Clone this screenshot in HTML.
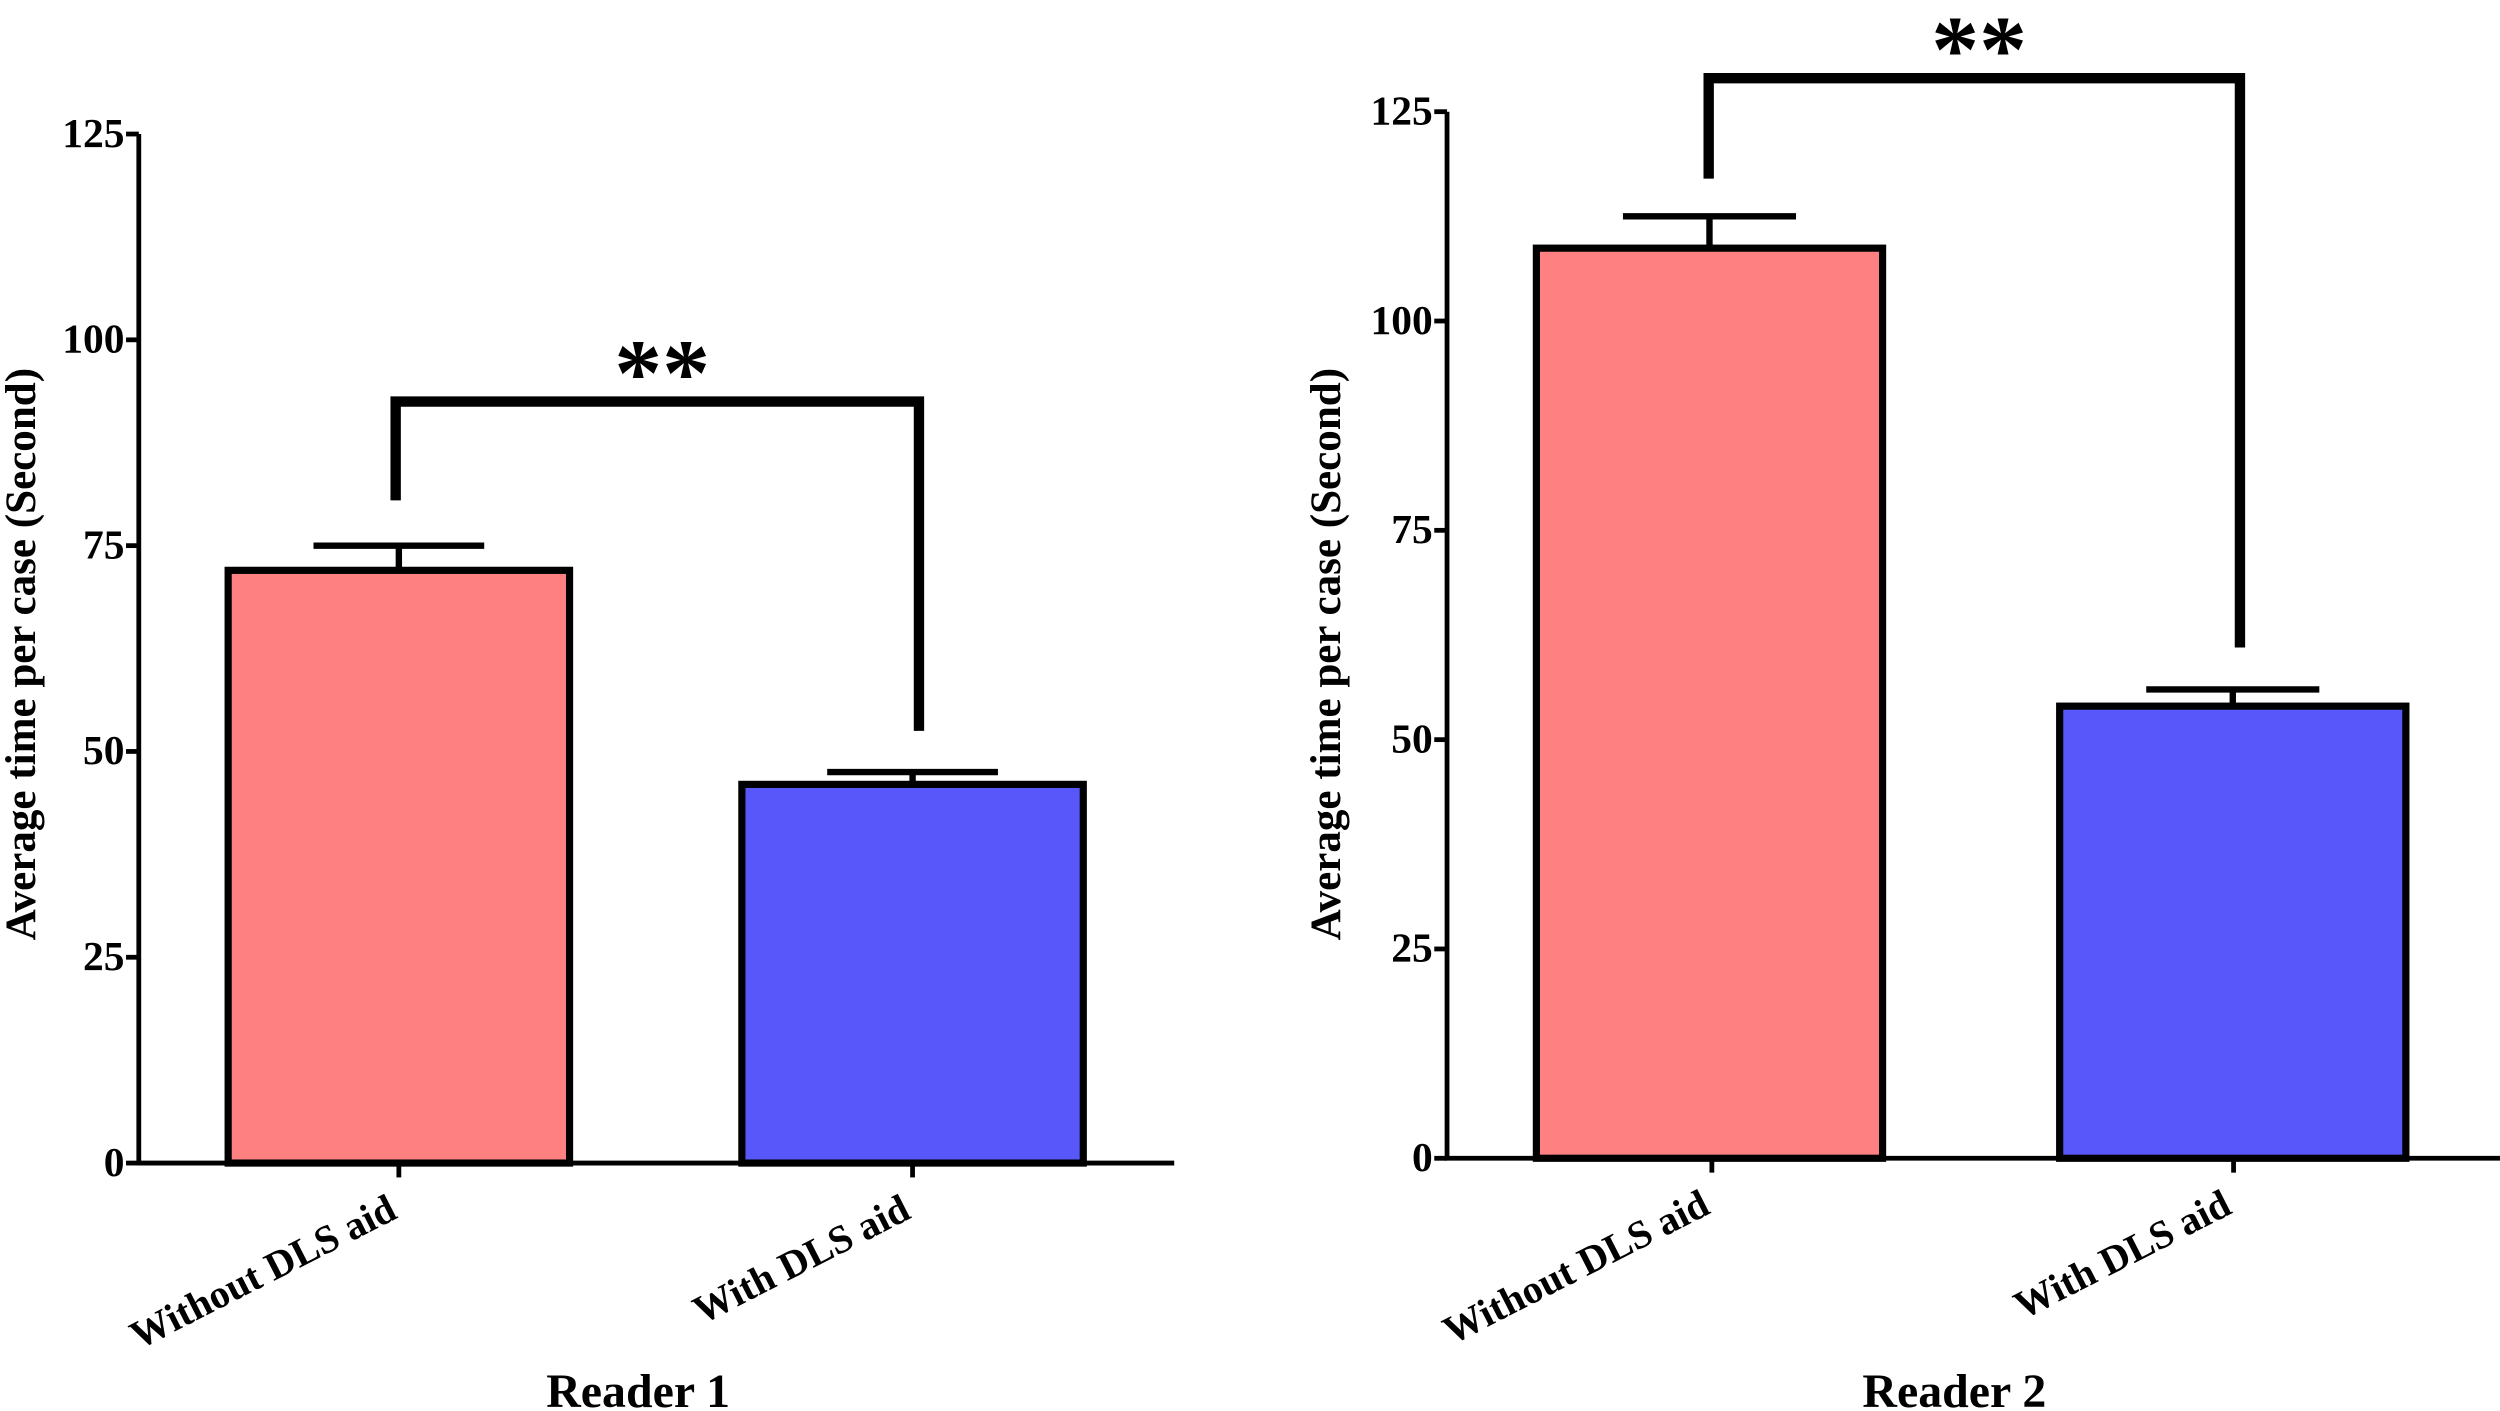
<!DOCTYPE html>
<html><head><meta charset="utf-8"><style>
html,body{margin:0;padding:0;background:#fff;}
svg{display:block;}
text{font-family:"Liberation Serif",serif;font-weight:bold;fill:#000;}
</style></head>
<body>
<svg id="chart" width="2500" height="1411" viewBox="0 0 1567 884.4" xmlns="http://www.w3.org/2000/svg"></svg>
<script>
const categories = ["Without DLS aid", "With DLS aid"];
const reader1Values = [72, 46];
const reader1Errors = [75, 47.5];
const reader2Values = [108.7, 54];
const reader2Errors = [112.5, 56];
const tickValues = [0, 25, 50, 75, 100, 125];
const tickLabels = ["0", "25", "50", "75", "100", "125"];
const panelTitles = ["Reader 1", "Reader 2"];
const colors = ["#ff8080", "#5858fa"];

const NS = "http://www.w3.org/2000/svg";
const svg = document.getElementById("chart");
function mk(tag, attrs, parent) {
  const e = document.createElementNS(NS, tag);
  for (const k in attrs) e.setAttribute(k, attrs[k]);
  (parent || svg).appendChild(e);
  return e;
}

const panels = [
  {axisX: 87, y0: 729, y125: 84, xEnd: 736, barL: [143, 465], barW: 214, ticksX: [250, 572],
   vals: reader1Values, errs: reader1Errors, bracketV: 92.5, legL: 80.5, legR: 52.5,
   title: panelTitles[0], titleX: 400, ytitleX: 22},
  {axisX: 907, y0: 726, y125: 70, xEnd: 1567, barL: [963, 1291], barW: 217, ticksX: [1073, 1400],
   vals: reader2Values, errs: reader2Errors, bracketV: 129, legL: 117, legR: 61,
   title: panelTitles[1], titleX: 1225, ytitleX: 840}
];

panels.forEach((p, pi) => {
  const g = mk("g", {});
  
  
  const yScale = v => p.y0 - (p.y0 - p.y125) * v / 125;

  p.vals.forEach((v, i) => {
    const top = yScale(v);
    const r = mk("rect", {x: p.barL[i], y: top, width: p.barW, height: p.y0 - top,
      fill: colors[i], stroke: "#000", "stroke-width": 4.5}, g);
    
    
    const cx = p.barL[i] + p.barW / 2;
    const ey = yScale(p.errs[i]);
    const eb = mk("path", {d: `M${cx},${top} V${ey} M${cx - p.barW / 4},${ey} H${cx + p.barW / 4}`,
      stroke: "#000", "stroke-width": 4, fill: "none"}, g);
    
    
  });

  const ax = mk("path", {d: `M${p.axisX},${yScale(125)} V${p.y0} H${p.xEnd}`, stroke: "#000", "stroke-width": 3, fill: "none"}, g);
  
  

  tickValues.forEach((t, i) => {
    const y = yScale(t);
    const tk = mk("line", {x1: p.axisX - 8, x2: p.axisX, y1: y, y2: y, stroke: "#000", "stroke-width": 3}, g);
    
    
    const tl = mk("text", {x: p.axisX - 9, y: y + 8, "text-anchor": "end", "font-size": 26}, g);
    tl.textContent = tickLabels[i];
    
    
  });

  categories.forEach((c, i) => {
    const x = p.ticksX[i];
    const tk = mk("line", {x1: x, x2: x, y1: p.y0, y2: p.y0 + 9, stroke: "#000", "stroke-width": 3}, g);
    
    
    const tl = mk("text", {x: x, y: p.y0 + 34, "text-anchor": "end", "font-size": 25,
      transform: `rotate(-27 ${x} ${p.y0 + 34})`}, g);
    tl.textContent = c;
    
    
  });

  const by = yScale(p.bracketV);
  const br = mk("path", {d: `M${p.ticksX[0] - 2},${yScale(p.legL)} V${by} H${p.ticksX[1] + 4} V${yScale(p.legR)}`,
    stroke: "#000", "stroke-width": 6.5, fill: "none"}, g);
  
  
  const st = mk("text", {x: (p.ticksX[0] + p.ticksX[1]) / 2 + 4, y: by + 2, "text-anchor": "middle", "font-size": 60}, g);
  st.textContent = "**";
  
  

  const tt = mk("text", {x: p.titleX, y: 882, "text-anchor": "middle", "font-size": 30}, g);
  tt.textContent = p.title;
  
  

  const yt = mk("text", {x: p.ytitleX, y: 410, "text-anchor": "middle", "font-size": 27,
    transform: `rotate(-90 ${p.ytitleX} 410)`}, g);
  yt.textContent = "Average time per case (Second)";
  
  
});
</script>
</body></html>
